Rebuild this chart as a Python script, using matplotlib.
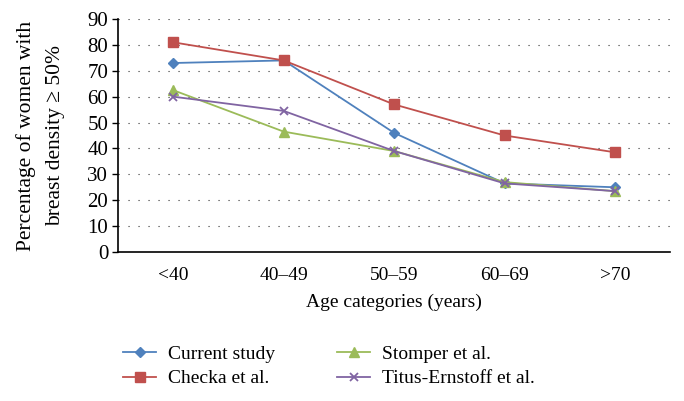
import matplotlib
matplotlib.use("Agg")
import matplotlib.pyplot as plt
import numpy as np

categories = ["<40", "40\u201349", "50\u201359", "60\u201369", ">70"]
current_study = [73, 74, 46, 26.5, 25]
checka = [81, 74, 57, 45, 38.5]
stomper = [62.5, 46.5, 39, 27, 23.5]
titus_ernstoff = [60, 54.5, 39, 26.5, 23.5]

plt.rcParams['font.family'] = ['Liberation Serif', 'DejaVu Serif']

fig = plt.figure(figsize=(6.84, 4.01), dpi=100)
ax = fig.add_axes([0.1725, 0.3716, 0.8075, 0.581])

x = np.arange(len(categories))
ax.plot(x, current_study, color='#4F81BD', marker='D', markersize=5, lw=1.3, label='Current study')
ax.plot(x, checka, color='#C0504D', marker='s', markersize=7, lw=1.3, label='Checka et al.')
ax.plot(x, stomper, color='#9BBB59', marker='^', markersize=7, lw=1.3, label='Stomper et al.')
ax.plot(x, titus_ernstoff, color='#8064A2', marker='x', markersize=6, mew=1.3, lw=1.3,
        label='Titus-Ernstoff et al.')

ax.set_xlim(-0.5, 4.5)
ax.set_ylim(0, 90)
ax.set_yticks(np.arange(0, 91, 10))
ax.set_xticks(x)
ax.set_xticklabels(categories)
ax.tick_params(axis='y', labelsize=15, length=4, width=1, color='black', pad=3)
ax.tick_params(axis='x', labelsize=14, length=0, pad=11)
ax.yaxis.grid(True, linestyle=(0, (1, 8)), color='#333333', lw=0.8)
ax.set_axisbelow(True)
for s in ['top', 'right']:
    ax.spines[s].set_visible(False)
ax.spines['left'].set_linewidth(1.2)
ax.spines['bottom'].set_linewidth(1.2)

ax.set_xlabel('Age categories (years)', fontsize=14, labelpad=7)
ax.set_ylabel('Percentage of women with\nbreast density \u2265 50%', fontsize=15.5,
              labelpad=16, linespacing=1.7)

fig.legend(loc='lower left', bbox_to_anchor=(0.16, 0.0), ncol=2, frameon=False, fontsize=14,
           handlelength=1.7, handletextpad=0.6, columnspacing=3.2, labelspacing=0.35,
           borderaxespad=0.3)

fig.savefig('out.png', dpi=100)
